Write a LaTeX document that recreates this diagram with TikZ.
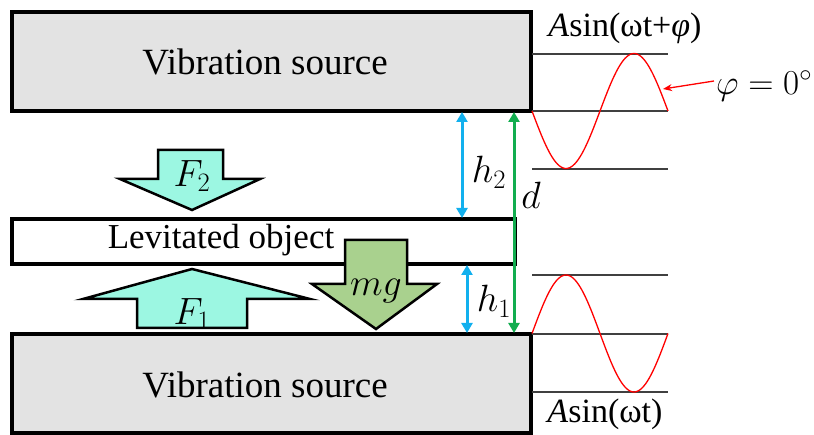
\documentclass[tikz,border=0pt]{standalone}
\usepackage{fix-cm}
\usepackage{fontspec}
\setmainfont{Liberation Serif}
\usetikzlibrary{arrows.meta}
\definecolor{boxgray}{HTML}{E3E3E3}
\definecolor{aqua}{HTML}{9CF7E2}
\definecolor{mggreen}{HTML}{A9D18E}
\definecolor{hblue}{HTML}{12B0EE}
\definecolor{dgreen}{HTML}{12AD4F}
\definecolor{wavered}{HTML}{FF0000}
\begin{document}
\begin{tikzpicture}[x=1pt,y=-1pt,
  srcbox/.style={draw=black, line width=3.5pt, fill=boxgray, inner sep=0pt},
  levbox/.style={draw=black, line width=3.5pt, fill=white, inner sep=0pt},
  bigtext/.style={font=\fontsize{37}{42}\selectfont, inner sep=0pt},
  levfont/.style={font=\fontsize{35}{40}\selectfont, inner sep=0pt},
  mathlbl/.style={font=\fontsize{38}{42}\selectfont, inner sep=0pt},
  funclbl/.style={font=\fontsize{34}{38}\selectfont, inner sep=0pt},
  blockarrow/.style={draw=black, line width=2.5pt, line join=miter},
  refline/.style={draw=black!75, line width=1.2pt},
  wave/.style={draw=wavered, line width=1.3pt},
  harrow/.style={draw=hblue, line width=3pt, {Triangle[length=10pt,width=11pt]}-{Triangle[length=10pt,width=11pt]}},
  darrow/.style={draw=dgreen, line width=3pt, {Triangle[length=10pt,width=11pt]}-{Triangle[length=10pt,width=11pt]}}
]
\useasboundingbox (0,0) rectangle (814,435);

% vibration sources
\node[srcbox, minimum width=519pt, minimum height=99pt] (top) at (271.5,61.5) {};
\node[bigtext] (toptext) at (265,62) {Vibration source};
\node[srcbox, minimum width=519pt, minimum height=99pt] (bot) at (271.5,383.5) {};
\node[bigtext] (bottext) at (265,385) {Vibration source};

% levitated object
\node[levbox, minimum width=503pt, minimum height=45pt] (lev) at (263.5,241.5) {};
\node[levfont] (levtext) at (221,240) {Levitated object};

% F2 arrow (down)
\draw[blockarrow, fill=aqua] (158,150) -- (223,150) -- (223,179) -- (260,179) -- (192,210)
  -- (120,179) -- (158,179) -- cycle;
\node[mathlbl] (f2) at (192,176) {$F_2$};

% F1 arrow (up)
\draw[blockarrow, fill=aqua] (192,269) -- (310,299) -- (247,299) -- (247,328) -- (137,328)
  -- (137,299) -- (83,299) -- cycle;
\node[mathlbl] (f1) at (192,314) {$F_1$};

% mg arrow (down)
\draw[blockarrow, fill=mggreen] (345,240) -- (407,240) -- (407,284) -- (437,284) -- (376,329)
  -- (312,284) -- (345,284) -- cycle;
\node[mathlbl] (mg) at (376,291) {$mg$};

% dimension arrows
\coordinate (h2a) at (462,112);
\coordinate (h2b) at (462,218);
\draw[harrow] (h2a) -- (h2b);
\node[mathlbl] (h2) at (489,172) {$h_2$};

\coordinate (h1a) at (467,265);
\coordinate (h1b) at (467,333);
\draw[harrow] (h1a) -- (h1b);
\node[mathlbl] (h1) at (494,301) {$h_1$};

\coordinate (da) at (514,112);
\coordinate (db) at (514,333);
\draw[darrow] (da) -- (db);
\node[mathlbl] (d) at (531,195) {$d$};

% upper wave
\draw[refline] (532,54) -- (668,54);
\draw[refline] (532,111) -- (668,111);
\draw[refline] (532,169) -- (668,169);
\draw[wave] plot[domain=0:136, samples=80, smooth] (532+\x, {111+57.5*sin(\x/136*360)});

% lower wave
\draw[refline] (532,275) -- (668,275);
\draw[refline] (532,334) -- (668,334);
\draw[refline] (532,392) -- (668,392);
\draw[wave] plot[domain=0:136, samples=80, smooth] (532+\x, {333.5-58.5*sin(\x/136*360)});

% labels
\node[funclbl] (upfunc) at (625,28) {\textit{A}sin(ωt+\textit{φ})};
\node[funclbl] (lowfunc) at (605,414) {\textit{A}sin(ωt)};
\node[font=\fontsize{35}{40}\selectfont, inner sep=0pt, anchor=west] (phi) at (716,86) {$\varphi = 0^\circ$};
\coordinate (phitip) at (663,89);
\draw[draw=wavered, line width=1.3pt, -{Stealth[length=9pt,width=7pt]}] (phi.west) ++(-2,-5) -- (phitip);
\end{tikzpicture}
\end{document}
